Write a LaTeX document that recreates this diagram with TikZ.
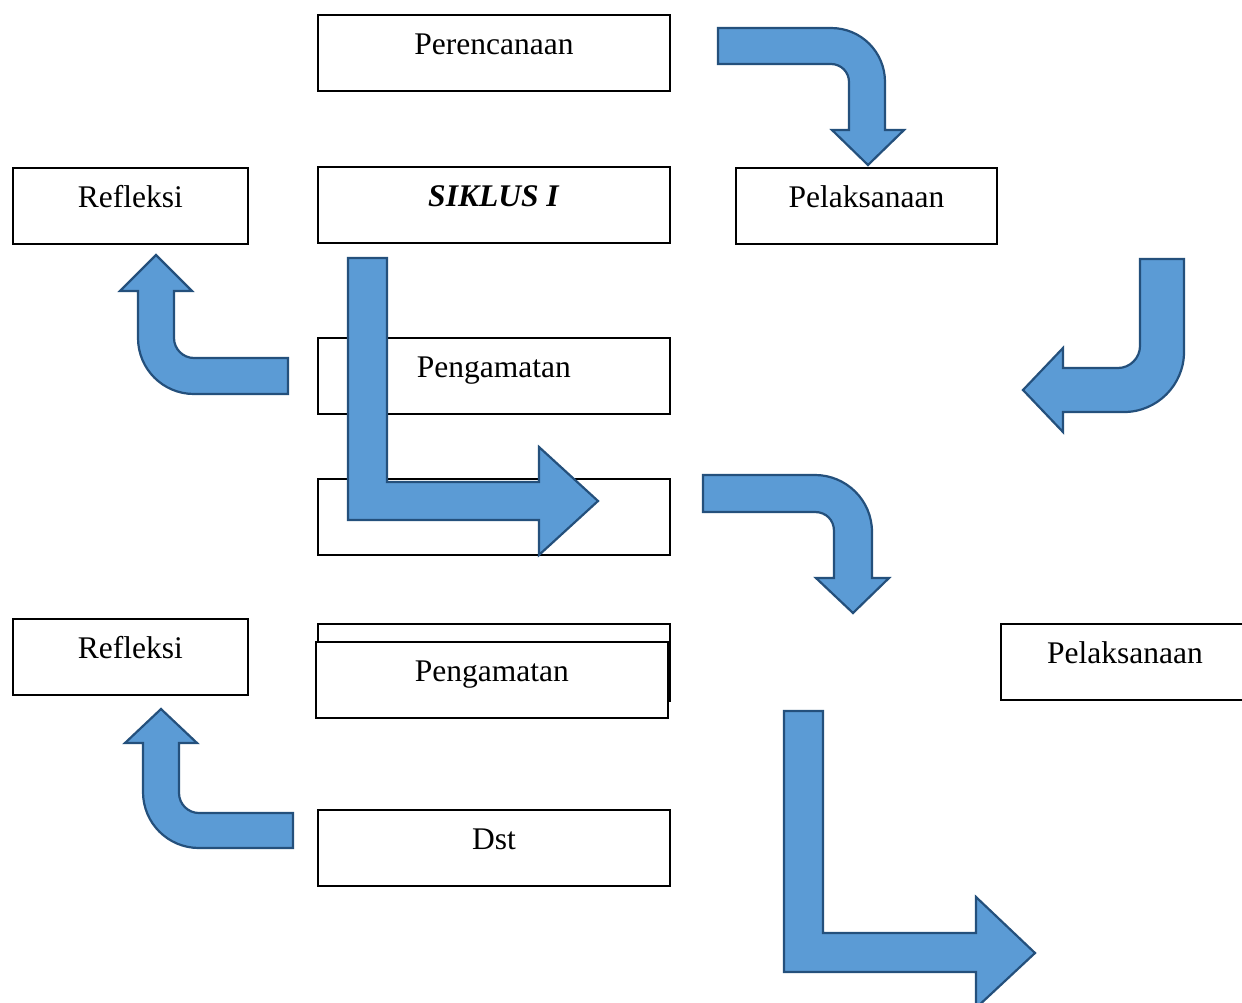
\documentclass[tikz,border=0pt]{standalone}
\usepackage{fontspec}
\setmainfont{Liberation Serif}
\definecolor{arrowfill}{HTML}{5B9BD5}
\definecolor{arrowline}{HTML}{24507C}
\begin{document}
\begin{tikzpicture}[x=1pt,y=-1pt,
  box/.style={draw=black,line width=1.8pt,fill=white,anchor=north west,
    inner xsep=0pt,inner ysep=0pt,text height=40pt,text depth=36pt,
    font=\fontsize{31.5}{38}\selectfont},
  bigarrow/.style={fill=arrowfill,draw=arrowline,line width=2.2pt,line join=miter}]
\useasboundingbox (0,0) rectangle (1242,1002);
\clip (0,0) rectangle (1242,1002);
\fill[white] (0,0) rectangle (1242,1002);
% boxes
\node[box,minimum width=352pt] (plan) at (317,14) {Perencanaan};
\node[box,minimum width=235pt] (ref1) at (12,167) {Refleksi};
\node[box,minimum width=352pt] (siklus) at (317,166) {\textbf{\textit{SIKLUS I}}};
\node[box,minimum width=261pt] (pel1) at (735,167) {Pelaksanaan};
\node[box,minimum width=352pt] (amat1) at (317,337) {Pengamatan};
\node[box,minimum width=352pt] (blank) at (317,478) {};
\node[box,minimum width=235pt] (ref2) at (12,618) {Refleksi};
\node[box,minimum width=352pt,text depth=37pt] (back) at (317,623) {};
\node[box,minimum width=352pt] (amat2) at (315,641) {Pengamatan};
\node[box,minimum width=352pt] (dst) at (317,809) {Dst};
\node[box,minimum width=248pt] (pel2) at (1000,623) {Pelaksanaan};
% arrow 1: Perencanaan -> Pelaksanaan
\draw[bigarrow] (718,28) -- (831,28) .. controls (861,28) and (885,52) .. (885,82)
  -- (885,130) -- (904,130) -- (868,165) -- (832,130) -- (849,130) -- (849,82)
  .. controls (849,72) and (841,64) .. (831,64) -- (718,64) -- cycle;
% arrow 2: up to Refleksi (top)
\draw[bigarrow] (288,358) -- (194,358) .. controls (183,358) and (174,349) .. (174,338)
  -- (174,291) -- (192,291) -- (156,255) -- (120,291) -- (138,291) -- (138,338)
  .. controls (138,369) and (163,394) .. (194,394) -- (288,394) -- cycle;
% arrow 3: right side, down then left
\draw[bigarrow] (1140,259) -- (1184,259) -- (1184,352) .. controls (1184,385) and (1157,412) .. (1124,412)
  -- (1063,412) -- (1063,432) -- (1023,390) -- (1063,348) -- (1063,368) -- (1118,368)
  .. controls (1130,368) and (1140,358) .. (1140,346) -- cycle;
% arrow 4: big L in the middle
\draw[bigarrow] (348,258) -- (387,258) -- (387,482) -- (539,482) -- (539,447)
  -- (598,501) -- (539,555) -- (539,520) -- (348,520) -- cycle;
% arrow 5: middle right bent arrow
\draw[bigarrow] (703,475) -- (815,475) .. controls (846,475) and (872,500) .. (872,532)
  -- (872,578) -- (889,578) -- (853,613) -- (816,578) -- (834,578) -- (834,531)
  .. controls (834,520) and (826,512) .. (815,512) -- (703,512) -- cycle;
% arrow 6: up to Refleksi (bottom)
\draw[bigarrow] (293,813) -- (199,813) .. controls (188,813) and (179,804) .. (179,793)
  -- (179,743) -- (197,743) -- (161,709) -- (125,743) -- (143,743) -- (143,792)
  .. controls (143,823) and (168,848) .. (199,848) -- (293,848) -- cycle;
% arrow 7: big L bottom right
\draw[bigarrow] (784,711) -- (823,711) -- (823,933) -- (976,933) -- (976,897)
  -- (1035,953) -- (976,1008) -- (976,972) -- (784,972) -- cycle;
\end{tikzpicture}
\end{document}
